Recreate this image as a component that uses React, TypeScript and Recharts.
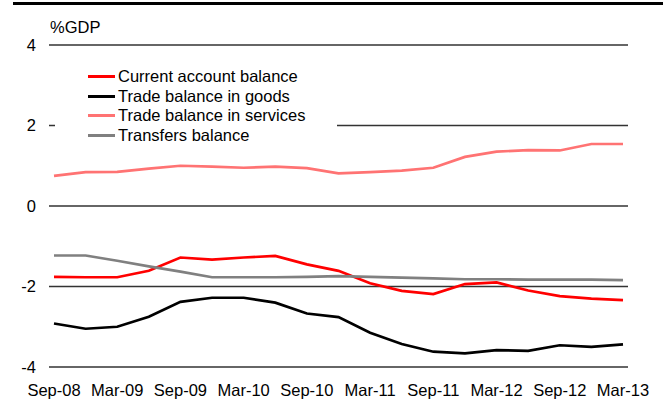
import { LineChart, Line, XAxis, YAxis, CartesianGrid, Legend } from "recharts";

const quarters = [
  "Sep-08", "Dec-08", "Mar-09", "Jun-09", "Sep-09", "Dec-09", "Mar-10", "Jun-10",
  "Sep-10", "Dec-10", "Mar-11", "Jun-11", "Sep-11", "Dec-11", "Mar-12", "Jun-12",
  "Sep-12", "Dec-12", "Mar-13",
];

const currentAccount = [
  -1.76, -1.77, -1.77, -1.61, -1.28, -1.33, -1.28, -1.24, -1.45, -1.61,
  -1.92, -2.11, -2.19, -1.94, -1.9, -2.1, -2.24, -2.3, -2.34,
];
const goods = [
  -2.92, -3.05, -3.0, -2.75, -2.38, -2.28, -2.28, -2.4, -2.67, -2.76,
  -3.15, -3.43, -3.62, -3.66, -3.58, -3.6, -3.46, -3.5, -3.44,
];
const services = [
  0.75, 0.84, 0.85, 0.93, 1.0, 0.98, 0.95, 0.98, 0.94, 0.81,
  0.84, 0.88, 0.95, 1.22, 1.35, 1.39, 1.38, 1.54, 1.54,
];
const transfers = [
  -1.23, -1.23, -1.36, -1.5, -1.63, -1.77, -1.77, -1.77, -1.76, -1.74,
  -1.76, -1.78, -1.8, -1.82, -1.82, -1.83, -1.83, -1.83, -1.84,
];

const yTicks = [-4, -2, 0, 2, 4];
const xTicks = ["Sep-08", "Mar-09", "Sep-09", "Mar-10", "Sep-10", "Mar-11", "Sep-11", "Mar-12", "Sep-12", "Mar-13"];

const series = [
  { key: "ca", name: "Current account balance", color: "#ff0000", values: currentAccount },
  { key: "goods", name: "Trade balance in goods", color: "#000000", values: goods },
  { key: "services", name: "Trade balance in services", color: "#ff7373", values: services },
  { key: "transfers", name: "Transfers balance", color: "#808080", values: transfers },
];

const data = quarters.map((q, i) => {
  const row: Record<string, string | number> = { q };
  series.forEach((s) => (row[s.key] = s.values[i]));
  return row;
});

const font = "'Liberation Sans', Arial, sans-serif";
const fs = 16.5;

function LegendBox() {
  return (
    <div style={{ background: "#fff", paddingTop: 1, paddingLeft: 33, height: 82, boxSizing: "border-box" }}>
      {series.map((s) => (
        <div key={s.key} style={{ display: "flex", alignItems: "center", height: 19.5 }}>
          <span style={{ display: "inline-block", width: 27, height: 3, background: s.color, marginRight: 3 }} />
          <span style={{ fontSize: fs, color: "#000", whiteSpace: "nowrap" }}>{s.name}</span>
        </div>
      ))}
    </div>
  );
}

export default function App() {
  return (
    <div style={{ position: "absolute", left: 0, top: 0, width: 667, height: 407, background: "#fff", fontFamily: font }}>
      <div style={{ position: "absolute", left: 13, top: 2, width: 650, height: 3, background: "#000" }} />
      <div style={{ position: "absolute", left: 50, top: 18, fontSize: fs, lineHeight: "18px", color: "#000" }}>%GDP</div>
      <LineChart width={667} height={407} data={data} margin={{ top: 45, right: 39, bottom: 0, left: 0 }}>
        <CartesianGrid vertical={false} stroke="#333" strokeWidth={1.3} />
        <XAxis
          dataKey="q"
          ticks={xTicks}
          interval={0}
          padding={{ left: 5, right: 5 }}
          axisLine={false}
          tickLine={false}
          tickSize={0}
          tickMargin={17}
          height={40}
          tick={{ fontSize: fs, fill: "#000", fontFamily: font }}
        />
        <YAxis
          domain={[-4, 4]}
          ticks={yTicks}
          width={49}
          axisLine={false}
          tickLine={false}
          tickSize={6}
          tickMargin={7}
          tick={{ fontSize: fs, fill: "#000", fontFamily: font }}
        />
        <Legend
          layout="vertical"
          align="center"
          verticalAlign="middle"
          content={() => <LegendBox />}
          wrapperStyle={{ left: 55, top: 66, width: 282, height: 82 }}
        />
        {series.map((s) => (
          <Line
            key={s.key}
            dataKey={s.key}
            name={s.name}
            stroke={s.color}
            strokeWidth={2.7}
            dot={false}
            type="linear"
            isAnimationActive={false}
          />
        ))}
      </LineChart>
    </div>
  );
}
